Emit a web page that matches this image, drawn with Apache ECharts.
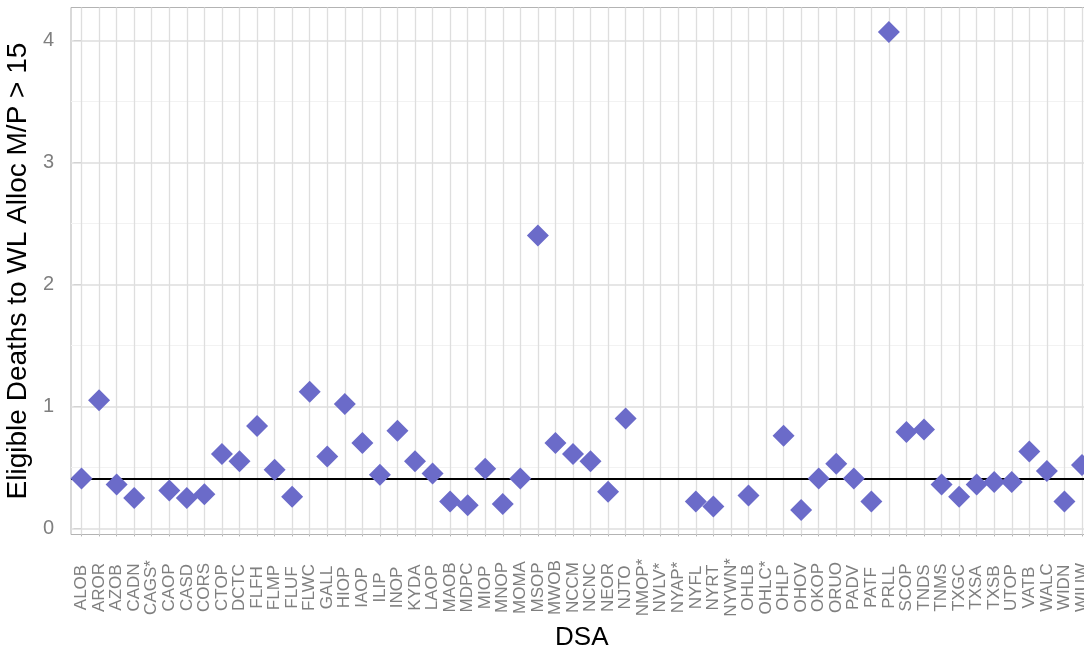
<!DOCTYPE html>
<html>
<head>
<meta charset="utf-8">
<title>Eligible Deaths to WL Alloc M/P &gt; 15 by DSA</title>
<script src="https://cdn.jsdelivr.net/npm/echarts@6/dist/echarts.min.js"></script>
<style>
  html, body { margin: 0; padding: 0; background: #ffffff; }
  #chart { width: 1084px; height: 655px; }
</style>
</head>
<body>
<div id="chart"></div>
<script>
// DSA codes along the x axis (starred DSAs have no value)
const categories = [
  'ALOB', 'AROR', 'AZOB', 'CADN', 'CAGS*', 'CAOP', 'CASD', 'CORS', 'CTOP', 'DCTC',
  'FLFH', 'FLMP', 'FLUF', 'FLWC', 'GALL', 'HIOP', 'IAOP', 'ILIP', 'INOP', 'KYDA',
  'LAOP', 'MAOB', 'MDPC', 'MIOP', 'MNOP', 'MOMA', 'MSOP', 'MWOB', 'NCCM', 'NCNC',
  'NEOR', 'NJTO', 'NMOP*', 'NVLV*', 'NYAP*', 'NYFL', 'NYRT', 'NYWN*', 'OHLB', 'OHLC*',
  'OHLP', 'OHOV', 'OKOP', 'ORUO', 'PADV', 'PATF', 'PRLL', 'SCOP', 'TNDS', 'TNMS',
  'TXGC', 'TXSA', 'TXSB', 'UTOP', 'VATB', 'WALC', 'WIDN', 'WIUW'
];

// Eligible deaths to waitlist allocation ratio, one per DSA
const values = [
  0.41, 1.05, 0.36, 0.25, null, 0.31, 0.25, 0.28, 0.61, 0.55,
  0.84, 0.48, 0.26, 1.12, 0.59, 1.02, 0.70, 0.44, 0.80, 0.55,
  0.45, 0.22, 0.19, 0.49, 0.20, 0.41, 2.40, 0.70, 0.61, 0.55,
  0.30, 0.90, null, null, null, 0.22, 0.18, null, 0.27, null,
  0.76, 0.15, 0.41, 0.53, 0.41, 0.22, 4.07, 0.79, 0.81, 0.36,
  0.26, 0.36, 0.38, 0.38, 0.63, 0.47, 0.22, 0.52
];

// national reference level drawn as a horizontal line
const referenceLevel = 0.41;

// y axis ticks and minor grid positions
const yTicks = [0, 1, 2, 3, 4];
const yMinorTicks = [0.5, 1.5, 2.5, 3.5];

const FONT = '"Liberation Sans", Arial, sans-serif';
const xTicks = categories.map((c, i) => i);

const points = values
  .map((v, i) => (v === null ? null : [i, v]))
  .filter(p => p !== null);

const noSymbols = ['none', 'none'];

const chart = echarts.init(document.getElementById('chart'), null, { renderer: 'canvas' });

chart.setOption({
  animation: false,
  backgroundColor: '#ffffff',
  grid: {
    left: 71,
    top: 7.5,
    width: 1021.5,
    height: 527,
    containLabel: false,
    outerBoundsMode: 'none',
    show: true,
    borderColor: '#b3b3b3',
    borderWidth: 1,
    backgroundColor: 'transparent'
  },
  xAxis: {
    type: 'value',
    min: -0.6,
    max: 57.6,
    name: 'DSA',
    nameLocation: 'middle',
    nameGap: 88,
    nameTextStyle: { fontFamily: FONT, fontSize: 26, color: '#000000' },
    axisLine: { show: false },
    axisTick: {
      show: true,
      customValues: xTicks,
      length: 8,
      lineStyle: { color: '#b3b3b3', width: 1 }
    },
    axisLabel: {
      customValues: xTicks,
      formatter: v => categories[Math.round(v)],
      rotate: 90,
      align: 'center',
      verticalAlign: 'middle',
      margin: 53,
      fontFamily: FONT,
      fontSize: 17,
      color: '#7f7f7f'
    },
    splitLine: { show: false },
    minorSplitLine: { show: false }
  },
  yAxis: {
    type: 'value',
    min: -0.05,
    max: 4.27,
    name: 'Eligible Deaths to WL Alloc M/P > 15',
    nameLocation: 'middle',
    nameGap: 34,
    nameTextStyle: { fontFamily: FONT, fontSize: 28, color: '#000000' },
    axisLine: { show: false },
    axisTick: {
      show: true,
      customValues: yTicks,
      length: 8,
      lineStyle: { color: '#b3b3b3', width: 1 }
    },
    axisLabel: {
      customValues: yTicks,
      margin: 17,
      fontFamily: FONT,
      fontSize: 20,
      color: '#7f7f7f'
    },
    splitLine: { show: false },
    minorSplitLine: { show: false }
  },
  series: [
    {
      // panel grid lines
      name: 'grid',
      type: 'scatter',
      data: [],
      silent: true,
      markLine: {
        silent: true,
        z: 1,
        symbol: noSymbols,
        label: { show: false },
        emphasis: { disabled: true },
        data: [
          ...yMinorTicks.map(v => ({ yAxis: v, lineStyle: { color: '#f2f2f2', width: 1, type: 'solid' } })),
          ...xTicks.map(v => ({ xAxis: v, lineStyle: { color: '#dedede', width: 1.3, type: 'solid' } })),
          ...yTicks.map(v => ({ yAxis: v, lineStyle: { color: '#dedede', width: 1.6, type: 'solid' } }))
        ]
      }
    },
    {
      // reference level
      name: 'reference',
      type: 'scatter',
      data: [],
      silent: true,
      markLine: {
        silent: true,
        z: 2,
        symbol: noSymbols,
        label: { show: false },
        emphasis: { disabled: true },
        lineStyle: { color: '#000000', width: 2, type: 'solid' },
        data: [{ yAxis: referenceLevel }]
      }
    },
    {
      name: 'Eligible Deaths to WL Alloc M/P > 15',
      type: 'scatter',
      z: 3,
      clip: false,
      symbol: 'diamond',
      symbolSize: [22, 22],
      itemStyle: { color: '#6b6bc9', opacity: 1 },
      data: points
    }
  ]
});
</script>
</body>
</html>
